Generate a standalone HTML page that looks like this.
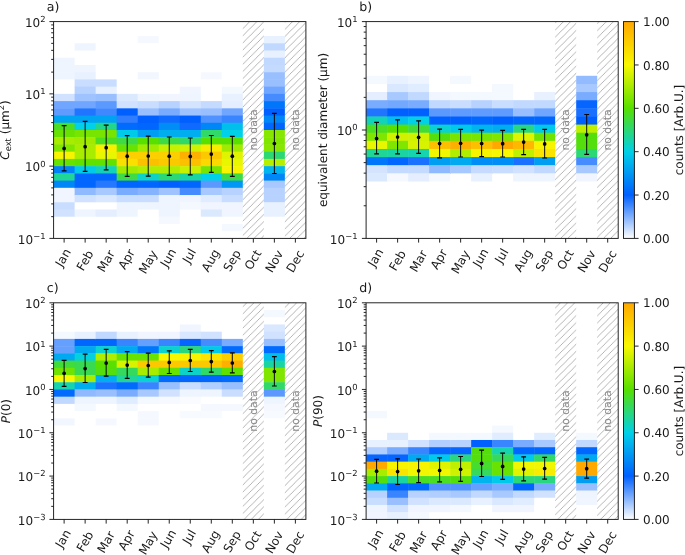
<!DOCTYPE html>
<html lang="en"><head><meta charset="utf-8"><title>Monthly distributions</title>
<style>html,body{margin:0;padding:0;background:#fff}body{width:685px;height:555px;overflow:hidden}svg{display:block;will-change:transform}text{font-family:'DejaVu Sans','Liberation Sans',sans-serif;text-rendering:geometricPrecision}</style>
</head><body>
<svg width="685" height="555" viewBox="0 0 685 555">
<defs>
<pattern id="hatch" width="7.13" height="7.13" patternUnits="userSpaceOnUse" x="0.5" y="0"><path d="M-2 2L2 -2M-1 8.129999999999999L8.129999999999999 -1M5.13 9.129999999999999L9.129999999999999 5.13" stroke="#a8a8a8" stroke-width="0.85" fill="none"/></pattern>
<linearGradient id="cb" x1="0" y1="1" x2="0" y2="0">
<stop offset="0" stop-color="#ffffff"/>
<stop offset="0.2" stop-color="#0060ff"/>
<stop offset="0.4" stop-color="#00d0e8"/>
<stop offset="0.6" stop-color="#58e000"/>
<stop offset="0.8" stop-color="#f8f800"/>
<stop offset="1" stop-color="#ffa800"/>
</linearGradient>
</defs>
<rect width="685" height="555" fill="#fff"/>
<g fill="#1a1a1a">
<g>
<g>
<rect x="53.6" y="57.73" width="21.03" height="7.68" fill="#eef5ff"/>
<rect x="53.6" y="64.96" width="21.48" height="7.68" fill="#eef5ff"/>
<rect x="53.6" y="72.19" width="21.48" height="7.23" fill="#eef5ff"/>
<rect x="53.6" y="93.87" width="21.48" height="7.68" fill="#d0e2ff"/>
<rect x="53.6" y="101.09" width="21.48" height="7.68" fill="#70a6ff"/>
<rect x="53.6" y="108.32" width="21.48" height="7.68" fill="#609cff"/>
<rect x="53.6" y="115.55" width="21.48" height="7.68" fill="#00a3f1"/>
<rect x="53.6" y="122.77" width="21.48" height="7.68" fill="#4bde23"/>
<rect x="53.6" y="130" width="21.48" height="7.68" fill="#68e200"/>
<rect x="53.6" y="137.23" width="21.48" height="7.68" fill="#a8ec00"/>
<rect x="53.6" y="144.45" width="21.48" height="7.68" fill="#80e600"/>
<rect x="53.6" y="151.68" width="21.48" height="7.68" fill="#f8f400"/>
<rect x="53.6" y="158.91" width="21.48" height="7.68" fill="#68e200"/>
<rect x="53.6" y="166.13" width="21.48" height="7.68" fill="#0082f8"/>
<rect x="53.6" y="173.36" width="21.48" height="7.68" fill="#1fd697"/>
<rect x="53.6" y="180.59" width="21.48" height="7.68" fill="#0087f7"/>
<rect x="53.6" y="187.81" width="21.48" height="7.68" fill="#f0f5ff"/>
<rect x="53.6" y="195.04" width="21.48" height="7.68" fill="#f0f5ff"/>
<rect x="53.6" y="202.27" width="21.03" height="7.68" fill="#c8ddff"/>
<rect x="53.6" y="209.49" width="21.48" height="7.23" fill="#d0e2ff"/>
<rect x="74.62" y="43.28" width="21.03" height="7.23" fill="#eef5ff"/>
<rect x="74.62" y="64.96" width="21.03" height="7.68" fill="#eef5ff"/>
<rect x="74.62" y="72.19" width="21.03" height="7.68" fill="#e8f1ff"/>
<rect x="74.62" y="79.41" width="21.48" height="7.68" fill="#c8ddff"/>
<rect x="74.62" y="86.64" width="21.48" height="7.68" fill="#b8d2ff"/>
<rect x="74.62" y="93.87" width="21.48" height="7.68" fill="#9fc3ff"/>
<rect x="74.62" y="101.09" width="21.48" height="7.68" fill="#70a6ff"/>
<rect x="74.62" y="108.32" width="21.48" height="7.68" fill="#2074ff"/>
<rect x="74.62" y="115.55" width="21.48" height="7.68" fill="#00a3f1"/>
<rect x="74.62" y="122.77" width="21.48" height="7.68" fill="#00d0e8"/>
<rect x="74.62" y="130" width="21.48" height="7.68" fill="#78e500"/>
<rect x="74.62" y="137.23" width="21.48" height="7.68" fill="#a0eb00"/>
<rect x="74.62" y="144.45" width="21.48" height="7.68" fill="#a8ec00"/>
<rect x="74.62" y="151.68" width="21.48" height="7.68" fill="#a8ec00"/>
<rect x="74.62" y="158.91" width="21.48" height="7.68" fill="#60e100"/>
<rect x="74.62" y="166.13" width="21.48" height="7.68" fill="#00cae9"/>
<rect x="74.62" y="173.36" width="21.48" height="7.68" fill="#0066fe"/>
<rect x="74.62" y="180.59" width="21.48" height="7.68" fill="#0066fe"/>
<rect x="74.62" y="187.81" width="21.48" height="7.68" fill="#90baff"/>
<rect x="74.62" y="195.04" width="21.48" height="7.23" fill="#d0e2ff"/>
<rect x="74.62" y="209.49" width="21.48" height="7.23" fill="#eef5ff"/>
<rect x="95.65" y="79.41" width="21.03" height="7.68" fill="#c8ddff"/>
<rect x="95.65" y="86.64" width="21.03" height="7.68" fill="#e8f1ff"/>
<rect x="95.65" y="93.87" width="21.48" height="7.68" fill="#99bfff"/>
<rect x="95.65" y="101.09" width="21.48" height="7.68" fill="#5c99ff"/>
<rect x="95.65" y="108.32" width="21.48" height="7.68" fill="#4088ff"/>
<rect x="95.65" y="115.55" width="21.48" height="7.68" fill="#00a3f1"/>
<rect x="95.65" y="122.77" width="21.48" height="7.68" fill="#23d68b"/>
<rect x="95.65" y="130" width="21.48" height="7.68" fill="#78e500"/>
<rect x="95.65" y="137.23" width="21.48" height="7.68" fill="#4bde23"/>
<rect x="95.65" y="144.45" width="21.48" height="7.68" fill="#f9f000"/>
<rect x="95.65" y="151.68" width="21.48" height="7.68" fill="#e8f600"/>
<rect x="95.65" y="158.91" width="21.48" height="7.68" fill="#60e100"/>
<rect x="95.65" y="166.13" width="21.48" height="7.68" fill="#12d3ba"/>
<rect x="95.65" y="173.36" width="21.48" height="7.68" fill="#0066fe"/>
<rect x="95.65" y="180.59" width="21.48" height="7.68" fill="#2678ff"/>
<rect x="95.65" y="187.81" width="21.48" height="7.68" fill="#a8c9ff"/>
<rect x="95.65" y="195.04" width="21.48" height="7.23" fill="#d9e7ff"/>
<rect x="95.65" y="209.49" width="21.48" height="7.23" fill="#e4eeff"/>
<rect x="116.68" y="93.87" width="21.48" height="7.68" fill="#dbe9ff"/>
<rect x="116.68" y="101.09" width="21.48" height="7.68" fill="#d0e2ff"/>
<rect x="116.68" y="108.32" width="21.48" height="7.68" fill="#0060ff"/>
<rect x="116.68" y="115.55" width="21.48" height="7.68" fill="#307eff"/>
<rect x="116.68" y="122.77" width="21.48" height="7.68" fill="#006bfd"/>
<rect x="116.68" y="130" width="21.48" height="7.68" fill="#00cae9"/>
<rect x="116.68" y="137.23" width="21.48" height="7.68" fill="#3edb46"/>
<rect x="116.68" y="144.45" width="21.48" height="7.68" fill="#68e200"/>
<rect x="116.68" y="151.68" width="21.48" height="7.68" fill="#fcd000"/>
<rect x="116.68" y="158.91" width="21.48" height="7.68" fill="#fae000"/>
<rect x="116.68" y="166.13" width="21.48" height="7.68" fill="#a0eb00"/>
<rect x="116.68" y="173.36" width="21.48" height="7.68" fill="#3edb46"/>
<rect x="116.68" y="180.59" width="21.48" height="7.68" fill="#0066fe"/>
<rect x="116.68" y="187.81" width="21.48" height="7.68" fill="#79acff"/>
<rect x="116.68" y="195.04" width="21.48" height="7.68" fill="#c8ddff"/>
<rect x="116.68" y="202.27" width="21.48" height="7.68" fill="#eef5ff"/>
<rect x="116.68" y="209.49" width="21.03" height="7.23" fill="#eef5ff"/>
<rect x="137.7" y="36.05" width="21.03" height="7.23" fill="#f5f9ff"/>
<rect x="137.7" y="72.19" width="21.03" height="7.23" fill="#f2f7ff"/>
<rect x="137.7" y="93.87" width="21.48" height="7.68" fill="#eef5ff"/>
<rect x="137.7" y="101.09" width="21.48" height="7.68" fill="#c8ddff"/>
<rect x="137.7" y="108.32" width="21.48" height="7.68" fill="#99bfff"/>
<rect x="137.7" y="115.55" width="21.48" height="7.68" fill="#0060ff"/>
<rect x="137.7" y="122.77" width="21.48" height="7.68" fill="#0066fe"/>
<rect x="137.7" y="130" width="21.48" height="7.68" fill="#009ef2"/>
<rect x="137.7" y="137.23" width="21.48" height="7.68" fill="#58e000"/>
<rect x="137.7" y="144.45" width="21.48" height="7.68" fill="#a0eb00"/>
<rect x="137.7" y="151.68" width="21.48" height="7.68" fill="#fcd000"/>
<rect x="137.7" y="158.91" width="21.48" height="7.68" fill="#fdc000"/>
<rect x="137.7" y="166.13" width="21.48" height="7.68" fill="#b0ed00"/>
<rect x="137.7" y="173.36" width="21.48" height="7.68" fill="#0dd2c5"/>
<rect x="137.7" y="180.59" width="21.48" height="7.68" fill="#0066fe"/>
<rect x="137.7" y="187.81" width="21.48" height="7.68" fill="#86b3ff"/>
<rect x="137.7" y="195.04" width="21.48" height="7.68" fill="#c8ddff"/>
<rect x="137.7" y="202.27" width="21.48" height="7.23" fill="#eef5ff"/>
<rect x="158.73" y="93.87" width="21.48" height="7.68" fill="#f0f5ff"/>
<rect x="158.73" y="101.09" width="21.48" height="7.68" fill="#b8d2ff"/>
<rect x="158.73" y="108.32" width="21.48" height="7.68" fill="#79acff"/>
<rect x="158.73" y="115.55" width="21.48" height="7.68" fill="#116aff"/>
<rect x="158.73" y="122.77" width="21.48" height="7.68" fill="#008df6"/>
<rect x="158.73" y="130" width="21.48" height="7.68" fill="#00aeef"/>
<rect x="158.73" y="137.23" width="21.48" height="7.68" fill="#3edb46"/>
<rect x="158.73" y="144.45" width="21.48" height="7.68" fill="#c8f100"/>
<rect x="158.73" y="151.68" width="21.48" height="7.68" fill="#fcd000"/>
<rect x="158.73" y="158.91" width="21.48" height="7.68" fill="#fcc800"/>
<rect x="158.73" y="166.13" width="21.48" height="7.68" fill="#b0ed00"/>
<rect x="158.73" y="173.36" width="21.48" height="7.68" fill="#2cd874"/>
<rect x="158.73" y="180.59" width="21.48" height="7.68" fill="#0060ff"/>
<rect x="158.73" y="187.81" width="21.48" height="7.68" fill="#9fc3ff"/>
<rect x="158.73" y="195.04" width="21.48" height="7.68" fill="#eef5ff"/>
<rect x="158.73" y="202.27" width="21.48" height="7.68" fill="#eef5ff"/>
<rect x="158.73" y="209.49" width="21.03" height="7.68" fill="#eef5ff"/>
<rect x="158.73" y="216.72" width="21.03" height="7.23" fill="#f5f9ff"/>
<rect x="179.75" y="86.64" width="21.03" height="7.68" fill="#f0f5ff"/>
<rect x="179.75" y="93.87" width="21.03" height="7.68" fill="#eef5ff"/>
<rect x="179.75" y="101.09" width="21.48" height="7.68" fill="#d4e4ff"/>
<rect x="179.75" y="108.32" width="21.48" height="7.68" fill="#9fc3ff"/>
<rect x="179.75" y="115.55" width="21.48" height="7.68" fill="#0060ff"/>
<rect x="179.75" y="122.77" width="21.48" height="7.68" fill="#116aff"/>
<rect x="179.75" y="130" width="21.48" height="7.68" fill="#00aeef"/>
<rect x="179.75" y="137.23" width="21.48" height="7.68" fill="#30d968"/>
<rect x="179.75" y="144.45" width="21.48" height="7.68" fill="#d0f200"/>
<rect x="179.75" y="151.68" width="21.48" height="7.68" fill="#feb000"/>
<rect x="179.75" y="158.91" width="21.48" height="7.68" fill="#fdc000"/>
<rect x="179.75" y="166.13" width="21.48" height="7.68" fill="#c8f100"/>
<rect x="179.75" y="173.36" width="21.48" height="7.68" fill="#1ad5a2"/>
<rect x="179.75" y="180.59" width="21.48" height="7.68" fill="#0066fe"/>
<rect x="179.75" y="187.81" width="21.48" height="7.68" fill="#468cff"/>
<rect x="179.75" y="195.04" width="21.48" height="7.68" fill="#f0f5ff"/>
<rect x="179.75" y="202.27" width="21.48" height="7.23" fill="#f4f8ff"/>
<rect x="200.78" y="72.19" width="21.03" height="7.23" fill="#f5f9ff"/>
<rect x="200.78" y="101.09" width="21.48" height="7.68" fill="#c4daff"/>
<rect x="200.78" y="108.32" width="21.48" height="7.68" fill="#99bfff"/>
<rect x="200.78" y="115.55" width="21.48" height="7.68" fill="#5092ff"/>
<rect x="200.78" y="122.77" width="21.48" height="7.68" fill="#0087f7"/>
<rect x="200.78" y="130" width="21.48" height="7.68" fill="#30d968"/>
<rect x="200.78" y="137.23" width="21.48" height="7.68" fill="#58e000"/>
<rect x="200.78" y="144.45" width="21.48" height="7.68" fill="#f9ec00"/>
<rect x="200.78" y="151.68" width="21.48" height="7.68" fill="#fcc800"/>
<rect x="200.78" y="158.91" width="21.48" height="7.68" fill="#fbd800"/>
<rect x="200.78" y="166.13" width="21.48" height="7.68" fill="#78e500"/>
<rect x="200.78" y="173.36" width="21.48" height="7.68" fill="#00d0e8"/>
<rect x="200.78" y="180.59" width="21.48" height="7.68" fill="#5c99ff"/>
<rect x="200.78" y="187.81" width="21.48" height="7.68" fill="#a8c9ff"/>
<rect x="200.78" y="195.04" width="21.48" height="7.68" fill="#e0ecff"/>
<rect x="200.78" y="202.27" width="21.48" height="7.68" fill="#f0f5ff"/>
<rect x="200.78" y="209.49" width="21.48" height="7.23" fill="#dbe9ff"/>
<rect x="221.8" y="86.64" width="21.03" height="7.68" fill="#f4f8ff"/>
<rect x="221.8" y="93.87" width="21.03" height="7.68" fill="#e8f1ff"/>
<rect x="221.8" y="101.09" width="21.03" height="7.68" fill="#e4eeff"/>
<rect x="221.8" y="108.32" width="21.03" height="7.68" fill="#70a6ff"/>
<rect x="221.8" y="115.55" width="21.03" height="7.68" fill="#3984ff"/>
<rect x="221.8" y="122.77" width="21.03" height="7.68" fill="#00bfeb"/>
<rect x="221.8" y="130" width="21.03" height="7.68" fill="#00d0e8"/>
<rect x="221.8" y="137.23" width="21.03" height="7.68" fill="#58e000"/>
<rect x="221.8" y="144.45" width="21.03" height="7.68" fill="#a0eb00"/>
<rect x="221.8" y="151.68" width="21.03" height="7.68" fill="#e0f400"/>
<rect x="221.8" y="158.91" width="21.03" height="7.68" fill="#e8f600"/>
<rect x="221.8" y="166.13" width="21.03" height="7.68" fill="#f8f400"/>
<rect x="221.8" y="173.36" width="21.03" height="7.68" fill="#3edb46"/>
<rect x="221.8" y="180.59" width="21.03" height="7.68" fill="#0098f4"/>
<rect x="221.8" y="187.81" width="21.03" height="7.68" fill="#b8d2ff"/>
<rect x="221.8" y="195.04" width="21.03" height="7.68" fill="#c8ddff"/>
<rect x="221.8" y="202.27" width="21.03" height="7.68" fill="#f0f5ff"/>
<rect x="221.8" y="209.49" width="21.03" height="7.23" fill="#f0f5ff"/>
<rect x="221.8" y="223.95" width="21.03" height="7.23" fill="#f4f8ff"/>
<rect x="263.85" y="36.05" width="21.03" height="7.68" fill="#e8f1ff"/>
<rect x="263.85" y="43.28" width="21.03" height="7.68" fill="#c1d8ff"/>
<rect x="263.85" y="50.51" width="21.03" height="7.68" fill="#e8f1ff"/>
<rect x="263.85" y="57.73" width="21.03" height="7.68" fill="#c1d8ff"/>
<rect x="263.85" y="64.96" width="21.03" height="7.68" fill="#c4daff"/>
<rect x="263.85" y="72.19" width="21.03" height="7.68" fill="#99bfff"/>
<rect x="263.85" y="79.41" width="21.03" height="7.68" fill="#99bfff"/>
<rect x="263.85" y="86.64" width="21.03" height="7.68" fill="#70a6ff"/>
<rect x="263.85" y="93.87" width="21.03" height="7.68" fill="#468cff"/>
<rect x="263.85" y="101.09" width="21.03" height="7.68" fill="#0076fa"/>
<rect x="263.85" y="108.32" width="21.03" height="7.68" fill="#0060ff"/>
<rect x="263.85" y="115.55" width="21.03" height="7.68" fill="#0087f7"/>
<rect x="263.85" y="122.77" width="21.03" height="7.68" fill="#0066fe"/>
<rect x="263.85" y="130" width="21.03" height="7.68" fill="#88e700"/>
<rect x="263.85" y="137.23" width="21.03" height="7.68" fill="#80e600"/>
<rect x="263.85" y="144.45" width="21.03" height="7.68" fill="#88e700"/>
<rect x="263.85" y="151.68" width="21.03" height="7.68" fill="#2cd874"/>
<rect x="263.85" y="158.91" width="21.03" height="7.68" fill="#b8ee00"/>
<rect x="263.85" y="166.13" width="21.03" height="7.68" fill="#00b4ee"/>
<rect x="263.85" y="173.36" width="21.03" height="7.68" fill="#0087f7"/>
<rect x="263.85" y="180.59" width="21.03" height="7.68" fill="#a8c9ff"/>
<rect x="263.85" y="187.81" width="21.03" height="7.68" fill="#b8d2ff"/>
<rect x="263.85" y="195.04" width="21.03" height="7.68" fill="#b8d2ff"/>
<rect x="263.85" y="202.27" width="21.03" height="7.68" fill="#e8f1ff"/>
<rect x="263.85" y="209.49" width="21.03" height="7.23" fill="#e8f1ff"/>
</g>
<rect x="242.83" y="21.6" width="21.03" height="216.8" fill="url(#hatch)"/>
<text transform="translate(257.04 130) rotate(-90)" text-anchor="middle" font-size="10.8" fill="#8a8a8a">no data</text>
<rect x="284.88" y="21.6" width="21.03" height="216.8" fill="url(#hatch)"/>
<text transform="translate(299.09 130) rotate(-90)" text-anchor="middle" font-size="10.8" fill="#8a8a8a">no data</text>
<path d="M64.11 125.6V170.9" stroke="#000" stroke-width="0.95" fill="none"/>
<path d="M61.71 125.6h4.8M61.71 170.9h4.8" stroke="#000" stroke-width="1.2" fill="none"/>
<circle cx="64.11" cy="148.4" r="1.85" fill="#000"/>
<path d="M85.14 121.4V171.3" stroke="#000" stroke-width="0.95" fill="none"/>
<path d="M82.74 121.4h4.8M82.74 171.3h4.8" stroke="#000" stroke-width="1.2" fill="none"/>
<circle cx="85.14" cy="146.7" r="1.85" fill="#000"/>
<path d="M106.16 125.2V169.9" stroke="#000" stroke-width="0.95" fill="none"/>
<path d="M103.76 125.2h4.8M103.76 169.9h4.8" stroke="#000" stroke-width="1.2" fill="none"/>
<circle cx="106.16" cy="147.7" r="1.85" fill="#000"/>
<path d="M127.19 135.7V176.4" stroke="#000" stroke-width="0.95" fill="none"/>
<path d="M124.79 135.7h4.8M124.79 176.4h4.8" stroke="#000" stroke-width="1.2" fill="none"/>
<circle cx="127.19" cy="156.2" r="1.85" fill="#000"/>
<path d="M148.21 136.1V176.2" stroke="#000" stroke-width="0.95" fill="none"/>
<path d="M145.81 136.1h4.8M145.81 176.2h4.8" stroke="#000" stroke-width="1.2" fill="none"/>
<circle cx="148.21" cy="156" r="1.85" fill="#000"/>
<path d="M169.24 137V175.4" stroke="#000" stroke-width="0.95" fill="none"/>
<path d="M166.84 137h4.8M166.84 175.4h4.8" stroke="#000" stroke-width="1.2" fill="none"/>
<circle cx="169.24" cy="156.2" r="1.85" fill="#000"/>
<path d="M190.26 138V174.9" stroke="#000" stroke-width="0.95" fill="none"/>
<path d="M187.86 138h4.8M187.86 174.9h4.8" stroke="#000" stroke-width="1.2" fill="none"/>
<circle cx="190.26" cy="156.4" r="1.85" fill="#000"/>
<path d="M211.29 135.5V172.4" stroke="#000" stroke-width="0.95" fill="none"/>
<path d="M208.89 135.5h4.8M208.89 172.4h4.8" stroke="#000" stroke-width="1.2" fill="none"/>
<circle cx="211.29" cy="154.1" r="1.85" fill="#000"/>
<path d="M232.31 136.3V176.4" stroke="#000" stroke-width="0.95" fill="none"/>
<path d="M229.91 136.3h4.8M229.91 176.4h4.8" stroke="#000" stroke-width="1.2" fill="none"/>
<circle cx="232.31" cy="156.2" r="1.85" fill="#000"/>
<path d="M274.36 113.4V173.5" stroke="#000" stroke-width="0.95" fill="none"/>
<path d="M271.96 113.4h4.8M271.96 173.5h4.8" stroke="#000" stroke-width="1.2" fill="none"/>
<circle cx="274.36" cy="143.5" r="1.85" fill="#000"/>
<rect x="53.6" y="21.6" width="252.3" height="216.8" fill="none" stroke="#1a1a1a" stroke-width="0.95"/>
<path d="M53.6 238.4h-4.2M53.6 216.65h-2.4M53.6 203.92h-2.4M53.6 194.89h-2.4M53.6 187.89h-2.4M53.6 182.17h-2.4M53.6 177.33h-2.4M53.6 173.14h-2.4M53.6 169.44h-2.4M53.6 166.13h-4.2M53.6 144.38h-2.4M53.6 131.65h-2.4M53.6 122.62h-2.4M53.6 115.62h-2.4M53.6 109.9h-2.4M53.6 105.06h-2.4M53.6 100.87h-2.4M53.6 97.17h-2.4M53.6 93.87h-4.2M53.6 72.11h-2.4M53.6 59.39h-2.4M53.6 50.36h-2.4M53.6 43.35h-2.4M53.6 37.63h-2.4M53.6 32.79h-2.4M53.6 28.6h-2.4M53.6 24.91h-2.4M53.6 21.6h-4.2M64.11 238.4v4.2M85.14 238.4v4.2M106.16 238.4v4.2M127.19 238.4v4.2M148.21 238.4v4.2M169.24 238.4v4.2M190.26 238.4v4.2M211.29 238.4v4.2M232.31 238.4v4.2M253.34 238.4v4.2M274.36 238.4v4.2M295.39 238.4v4.2" stroke="#1a1a1a" stroke-width="0.95" fill="none"/>
<text x="45.7" y="243.6" text-anchor="end" font-size="12.0">10<tspan font-size="8.4" dy="-4.8" dx="0.2">−1</tspan></text>
<text x="45.7" y="171.33" text-anchor="end" font-size="12.0">10<tspan font-size="8.4" dy="-4.8" dx="0.2">0</tspan></text>
<text x="45.7" y="99.07" text-anchor="end" font-size="12.0">10<tspan font-size="8.4" dy="-4.8" dx="0.2">1</tspan></text>
<text x="45.7" y="26.8" text-anchor="end" font-size="12.0">10<tspan font-size="8.4" dy="-4.8" dx="0.2">2</tspan></text>
<text transform="translate(62.05 267.74) rotate(-60)" font-size="12.0">Jan</text>
<text transform="translate(83.28 271.68) rotate(-60)" font-size="12.0">Feb</text>
<text transform="translate(103.96 272.89) rotate(-60)" font-size="12.0">Mar</text>
<text transform="translate(124.91 270.32) rotate(-60)" font-size="12.0">Apr</text>
<text transform="translate(145.47 274.76) rotate(-60)" font-size="12.0">May</text>
<text transform="translate(167.11 267.96) rotate(-60)" font-size="12.0">Jun</text>
<text transform="translate(189.2 264.26) rotate(-60)" font-size="12.0">Jul</text>
<text transform="translate(208.34 272.63) rotate(-60)" font-size="12.0">Aug</text>
<text transform="translate(229.92 272.53) rotate(-60)" font-size="12.0">Sep</text>
<text transform="translate(251.36 270.81) rotate(-60)" font-size="12.0">Oct</text>
<text transform="translate(271.96 273.56) rotate(-60)" font-size="12.0">Nov</text>
<text transform="translate(293.04 273.39) rotate(-60)" font-size="12.0">Dec</text>
<text x="46.8" y="10.6" font-size="12.6">a)</text>
<text transform="translate(9.3 130) rotate(-90)" text-anchor="middle" font-size="12.0"><tspan font-style="italic">C</tspan><tspan font-size="8.4" dy="1.8">ext</tspan><tspan dy="-1.8"> (µm</tspan><tspan font-size="8.4" dy="-4.9">2</tspan><tspan dy="4.9">)</tspan></text>
</g>
<g>
<g>
<rect x="366.1" y="75.8" width="21.46" height="8.13" fill="#f4f8ff"/>
<rect x="366.1" y="92.06" width="21.46" height="8.58" fill="#e4eeff"/>
<rect x="366.1" y="100.19" width="21.46" height="8.58" fill="#79acff"/>
<rect x="366.1" y="108.32" width="21.46" height="8.58" fill="#2074ff"/>
<rect x="366.1" y="116.45" width="21.46" height="8.58" fill="#12d3ba"/>
<rect x="366.1" y="124.58" width="21.46" height="8.58" fill="#4bde23"/>
<rect x="366.1" y="132.71" width="21.46" height="8.58" fill="#80e600"/>
<rect x="366.1" y="140.84" width="21.46" height="8.58" fill="#e8f600"/>
<rect x="366.1" y="148.97" width="21.46" height="8.58" fill="#1fd697"/>
<rect x="366.1" y="157.1" width="21.46" height="8.58" fill="#0076fa"/>
<rect x="366.1" y="165.23" width="21.46" height="8.58" fill="#d4e4ff"/>
<rect x="366.1" y="173.36" width="21.46" height="8.13" fill="#dbe9ff"/>
<rect x="387.11" y="75.8" width="21.46" height="8.58" fill="#e8f1ff"/>
<rect x="387.11" y="83.93" width="21.46" height="8.58" fill="#d9e7ff"/>
<rect x="387.11" y="92.06" width="21.46" height="8.58" fill="#a8c9ff"/>
<rect x="387.11" y="100.19" width="21.46" height="8.58" fill="#73a8ff"/>
<rect x="387.11" y="108.32" width="21.46" height="8.58" fill="#0060ff"/>
<rect x="387.11" y="116.45" width="21.46" height="8.58" fill="#00bfeb"/>
<rect x="387.11" y="124.58" width="21.46" height="8.58" fill="#58e000"/>
<rect x="387.11" y="132.71" width="21.46" height="8.58" fill="#d0f200"/>
<rect x="387.11" y="140.84" width="21.46" height="8.58" fill="#80e600"/>
<rect x="387.11" y="148.97" width="21.46" height="8.58" fill="#1ad5a2"/>
<rect x="387.11" y="157.1" width="21.46" height="8.58" fill="#0066fe"/>
<rect x="387.11" y="165.23" width="21.46" height="8.58" fill="#c4daff"/>
<rect x="387.11" y="173.36" width="21.46" height="8.13" fill="#f5f9ff"/>
<rect x="408.12" y="75.8" width="21.01" height="8.58" fill="#eef5ff"/>
<rect x="408.12" y="83.93" width="21.01" height="8.58" fill="#e0ecff"/>
<rect x="408.12" y="92.06" width="21.46" height="8.58" fill="#c1d8ff"/>
<rect x="408.12" y="100.19" width="21.46" height="8.58" fill="#79acff"/>
<rect x="408.12" y="108.32" width="21.46" height="8.58" fill="#0060ff"/>
<rect x="408.12" y="116.45" width="21.46" height="8.58" fill="#00d0e8"/>
<rect x="408.12" y="124.58" width="21.46" height="8.58" fill="#42dc3a"/>
<rect x="408.12" y="132.71" width="21.46" height="8.58" fill="#d0f200"/>
<rect x="408.12" y="140.84" width="21.46" height="8.58" fill="#d8f300"/>
<rect x="408.12" y="148.97" width="21.46" height="8.58" fill="#16d4ae"/>
<rect x="408.12" y="157.1" width="21.46" height="8.58" fill="#1a70ff"/>
<rect x="408.12" y="165.23" width="21.46" height="8.58" fill="#c4daff"/>
<rect x="408.12" y="173.36" width="21.46" height="8.13" fill="#e4eeff"/>
<rect x="429.12" y="92.06" width="21.46" height="8.58" fill="#f0f5ff"/>
<rect x="429.12" y="100.19" width="21.46" height="8.58" fill="#c1d8ff"/>
<rect x="429.12" y="108.32" width="21.46" height="8.58" fill="#5c99ff"/>
<rect x="429.12" y="116.45" width="21.46" height="8.58" fill="#0060ff"/>
<rect x="429.12" y="124.58" width="21.46" height="8.58" fill="#09d2d1"/>
<rect x="429.12" y="132.71" width="21.46" height="8.58" fill="#54df0c"/>
<rect x="429.12" y="140.84" width="21.46" height="8.58" fill="#fdc000"/>
<rect x="429.12" y="148.97" width="21.46" height="8.58" fill="#f0f700"/>
<rect x="429.12" y="157.1" width="21.46" height="8.58" fill="#009ef2"/>
<rect x="429.12" y="165.23" width="21.46" height="8.58" fill="#90baff"/>
<rect x="429.12" y="173.36" width="21.01" height="8.13" fill="#f4f8ff"/>
<rect x="450.13" y="75.8" width="21.01" height="8.13" fill="#f4f8ff"/>
<rect x="450.13" y="92.06" width="21.46" height="8.58" fill="#f4f8ff"/>
<rect x="450.13" y="100.19" width="21.46" height="8.58" fill="#c8ddff"/>
<rect x="450.13" y="108.32" width="21.46" height="8.58" fill="#609cff"/>
<rect x="450.13" y="116.45" width="21.46" height="8.58" fill="#0060ff"/>
<rect x="450.13" y="124.58" width="21.46" height="8.58" fill="#00cae9"/>
<rect x="450.13" y="132.71" width="21.46" height="8.58" fill="#78e500"/>
<rect x="450.13" y="140.84" width="21.46" height="8.58" fill="#feb000"/>
<rect x="450.13" y="148.97" width="21.46" height="8.58" fill="#b0ed00"/>
<rect x="450.13" y="157.1" width="21.46" height="8.58" fill="#00a9f0"/>
<rect x="450.13" y="165.23" width="21.46" height="8.13" fill="#a8c9ff"/>
<rect x="471.14" y="92.06" width="21.46" height="8.58" fill="#f4f8ff"/>
<rect x="471.14" y="100.19" width="21.46" height="8.58" fill="#b8d2ff"/>
<rect x="471.14" y="108.32" width="21.46" height="8.58" fill="#609cff"/>
<rect x="471.14" y="116.45" width="21.46" height="8.58" fill="#0066fe"/>
<rect x="471.14" y="124.58" width="21.46" height="8.58" fill="#00b4ee"/>
<rect x="471.14" y="132.71" width="21.46" height="8.58" fill="#78e500"/>
<rect x="471.14" y="140.84" width="21.46" height="8.58" fill="#fdc000"/>
<rect x="471.14" y="148.97" width="21.46" height="8.58" fill="#f8f400"/>
<rect x="471.14" y="157.1" width="21.46" height="8.58" fill="#008df6"/>
<rect x="471.14" y="165.23" width="21.46" height="8.58" fill="#c6dbff"/>
<rect x="471.14" y="173.36" width="21.01" height="8.13" fill="#e8f1ff"/>
<rect x="492.15" y="83.93" width="21.01" height="8.58" fill="#f4f8ff"/>
<rect x="492.15" y="92.06" width="21.01" height="8.58" fill="#f4f8ff"/>
<rect x="492.15" y="100.19" width="21.46" height="8.58" fill="#c8ddff"/>
<rect x="492.15" y="108.32" width="21.46" height="8.58" fill="#609cff"/>
<rect x="492.15" y="116.45" width="21.46" height="8.58" fill="#0060ff"/>
<rect x="492.15" y="124.58" width="21.46" height="8.58" fill="#00aeef"/>
<rect x="492.15" y="132.71" width="21.46" height="8.58" fill="#80e600"/>
<rect x="492.15" y="140.84" width="21.46" height="8.58" fill="#ffa800"/>
<rect x="492.15" y="148.97" width="21.46" height="8.58" fill="#f8f800"/>
<rect x="492.15" y="157.1" width="21.46" height="8.58" fill="#008df6"/>
<rect x="492.15" y="165.23" width="21.46" height="8.13" fill="#c8ddff"/>
<rect x="513.16" y="100.19" width="21.46" height="8.58" fill="#c1d8ff"/>
<rect x="513.16" y="108.32" width="21.46" height="8.58" fill="#99bfff"/>
<rect x="513.16" y="116.45" width="21.46" height="8.58" fill="#0066fe"/>
<rect x="513.16" y="124.58" width="21.46" height="8.58" fill="#28d780"/>
<rect x="513.16" y="132.71" width="21.46" height="8.58" fill="#e0f400"/>
<rect x="513.16" y="140.84" width="21.46" height="8.58" fill="#feb800"/>
<rect x="513.16" y="148.97" width="21.46" height="8.58" fill="#c0f000"/>
<rect x="513.16" y="157.1" width="21.46" height="8.58" fill="#1a70ff"/>
<rect x="513.16" y="165.23" width="21.46" height="8.58" fill="#d0e2ff"/>
<rect x="513.16" y="173.36" width="21.46" height="8.13" fill="#eef5ff"/>
<rect x="534.17" y="92.06" width="21.01" height="8.58" fill="#e8f1ff"/>
<rect x="534.17" y="100.19" width="21.01" height="8.58" fill="#c1d8ff"/>
<rect x="534.17" y="108.32" width="21.01" height="8.58" fill="#70a6ff"/>
<rect x="534.17" y="116.45" width="21.01" height="8.58" fill="#0066fe"/>
<rect x="534.17" y="124.58" width="21.01" height="8.58" fill="#00cae9"/>
<rect x="534.17" y="132.71" width="21.01" height="8.58" fill="#70e400"/>
<rect x="534.17" y="140.84" width="21.01" height="8.58" fill="#f8f400"/>
<rect x="534.17" y="148.97" width="21.01" height="8.58" fill="#fae400"/>
<rect x="534.17" y="157.1" width="21.01" height="8.58" fill="#009ef2"/>
<rect x="534.17" y="165.23" width="21.01" height="8.58" fill="#c1d8ff"/>
<rect x="534.17" y="173.36" width="21.01" height="8.13" fill="#eef5ff"/>
<rect x="576.18" y="75.8" width="21.01" height="8.58" fill="#93bbff"/>
<rect x="576.18" y="83.93" width="21.01" height="8.58" fill="#a8c9ff"/>
<rect x="576.18" y="92.06" width="21.01" height="8.58" fill="#79acff"/>
<rect x="576.18" y="100.19" width="21.01" height="8.58" fill="#0664ff"/>
<rect x="576.18" y="108.32" width="21.01" height="8.58" fill="#1a70ff"/>
<rect x="576.18" y="116.45" width="21.01" height="8.58" fill="#0060ff"/>
<rect x="576.18" y="124.58" width="21.01" height="8.58" fill="#c0f000"/>
<rect x="576.18" y="132.71" width="21.01" height="8.58" fill="#54df0c"/>
<rect x="576.18" y="140.84" width="21.01" height="8.58" fill="#54df0c"/>
<rect x="576.18" y="148.97" width="21.01" height="8.58" fill="#2cd874"/>
<rect x="576.18" y="157.1" width="21.01" height="8.58" fill="#468cff"/>
<rect x="576.18" y="165.23" width="21.01" height="8.58" fill="#a8c9ff"/>
<rect x="576.18" y="173.36" width="21.01" height="8.13" fill="#f0f5ff"/>
</g>
<rect x="555.17" y="21.6" width="21.01" height="216.8" fill="url(#hatch)"/>
<text transform="translate(569.38 130) rotate(-90)" text-anchor="middle" font-size="10.8" fill="#8a8a8a">no data</text>
<rect x="597.19" y="21.6" width="21.01" height="216.8" fill="url(#hatch)"/>
<text transform="translate(611.4 130) rotate(-90)" text-anchor="middle" font-size="10.8" fill="#8a8a8a">no data</text>
<path d="M376.6 122.3V153.8" stroke="#000" stroke-width="0.95" fill="none"/>
<path d="M374.2 122.3h4.8M374.2 153.8h4.8" stroke="#000" stroke-width="1.2" fill="none"/>
<circle cx="376.6" cy="138.5" r="1.85" fill="#000"/>
<path d="M397.61 119.9V153.8" stroke="#000" stroke-width="0.95" fill="none"/>
<path d="M395.21 119.9h4.8M395.21 153.8h4.8" stroke="#000" stroke-width="1.2" fill="none"/>
<circle cx="397.61" cy="137" r="1.85" fill="#000"/>
<path d="M418.62 120.9V153.3" stroke="#000" stroke-width="0.95" fill="none"/>
<path d="M416.22 120.9h4.8M416.22 153.3h4.8" stroke="#000" stroke-width="1.2" fill="none"/>
<circle cx="418.62" cy="137.3" r="1.85" fill="#000"/>
<path d="M439.63 129.1V157.9" stroke="#000" stroke-width="0.95" fill="none"/>
<path d="M437.23 129.1h4.8M437.23 157.9h4.8" stroke="#000" stroke-width="1.2" fill="none"/>
<circle cx="439.63" cy="143.6" r="1.85" fill="#000"/>
<path d="M460.64 129.4V157" stroke="#000" stroke-width="0.95" fill="none"/>
<path d="M458.24 129.4h4.8M458.24 157h4.8" stroke="#000" stroke-width="1.2" fill="none"/>
<circle cx="460.64" cy="143.3" r="1.85" fill="#000"/>
<path d="M481.65 130.1V156.6" stroke="#000" stroke-width="0.95" fill="none"/>
<path d="M479.25 130.1h4.8M479.25 156.6h4.8" stroke="#000" stroke-width="1.2" fill="none"/>
<circle cx="481.65" cy="143.5" r="1.85" fill="#000"/>
<path d="M502.65 130.3V157" stroke="#000" stroke-width="0.95" fill="none"/>
<path d="M500.25 130.3h4.8M500.25 157h4.8" stroke="#000" stroke-width="1.2" fill="none"/>
<circle cx="502.65" cy="143.7" r="1.85" fill="#000"/>
<path d="M523.66 129.4V154.7" stroke="#000" stroke-width="0.95" fill="none"/>
<path d="M521.26 129.4h4.8M521.26 154.7h4.8" stroke="#000" stroke-width="1.2" fill="none"/>
<circle cx="523.66" cy="142.1" r="1.85" fill="#000"/>
<path d="M544.67 129.4V158" stroke="#000" stroke-width="0.95" fill="none"/>
<path d="M542.27 129.4h4.8M542.27 158h4.8" stroke="#000" stroke-width="1.2" fill="none"/>
<circle cx="544.67" cy="143.9" r="1.85" fill="#000"/>
<path d="M586.69 114.5V154.3" stroke="#000" stroke-width="0.95" fill="none"/>
<path d="M584.29 114.5h4.8M584.29 154.3h4.8" stroke="#000" stroke-width="1.2" fill="none"/>
<circle cx="586.69" cy="134.8" r="1.85" fill="#000"/>
<rect x="366.1" y="21.6" width="252.1" height="216.8" fill="none" stroke="#1a1a1a" stroke-width="0.95"/>
<path d="M366.1 238.4h-4.2M366.1 205.77h-2.4M366.1 186.68h-2.4M366.1 173.14h-2.4M366.1 162.63h-2.4M366.1 154.05h-2.4M366.1 146.79h-2.4M366.1 140.51h-2.4M366.1 134.96h-2.4M366.1 130h-4.2M366.1 97.37h-2.4M366.1 78.28h-2.4M366.1 64.74h-2.4M366.1 54.23h-2.4M366.1 45.65h-2.4M366.1 38.39h-2.4M366.1 32.11h-2.4M366.1 26.56h-2.4M366.1 21.6h-4.2M376.6 238.4v4.2M397.61 238.4v4.2M418.62 238.4v4.2M439.63 238.4v4.2M460.64 238.4v4.2M481.65 238.4v4.2M502.65 238.4v4.2M523.66 238.4v4.2M544.67 238.4v4.2M565.68 238.4v4.2M586.69 238.4v4.2M607.7 238.4v4.2" stroke="#1a1a1a" stroke-width="0.95" fill="none"/>
<text x="357.7" y="243.6" text-anchor="end" font-size="12.0">10<tspan font-size="8.4" dy="-4.8" dx="0.2">−1</tspan></text>
<text x="357.7" y="135.2" text-anchor="end" font-size="12.0">10<tspan font-size="8.4" dy="-4.8" dx="0.2">0</tspan></text>
<text x="357.7" y="26.8" text-anchor="end" font-size="12.0">10<tspan font-size="8.4" dy="-4.8" dx="0.2">1</tspan></text>
<text transform="translate(374.54 267.74) rotate(-60)" font-size="12.0">Jan</text>
<text transform="translate(395.76 271.68) rotate(-60)" font-size="12.0">Feb</text>
<text transform="translate(416.42 272.89) rotate(-60)" font-size="12.0">Mar</text>
<text transform="translate(437.35 270.32) rotate(-60)" font-size="12.0">Apr</text>
<text transform="translate(457.89 274.76) rotate(-60)" font-size="12.0">May</text>
<text transform="translate(479.52 267.96) rotate(-60)" font-size="12.0">Jun</text>
<text transform="translate(501.59 264.26) rotate(-60)" font-size="12.0">Jul</text>
<text transform="translate(520.72 272.63) rotate(-60)" font-size="12.0">Aug</text>
<text transform="translate(542.28 272.53) rotate(-60)" font-size="12.0">Sep</text>
<text transform="translate(563.7 270.81) rotate(-60)" font-size="12.0">Oct</text>
<text transform="translate(584.29 273.56) rotate(-60)" font-size="12.0">Nov</text>
<text transform="translate(605.35 273.39) rotate(-60)" font-size="12.0">Dec</text>
<text x="359.3" y="10.6" font-size="12.6">b)</text>
<text transform="translate(327 130) rotate(-90)" text-anchor="middle" font-size="12.0">equivalent diameter (µm)</text>
</g>
<g>
<g>
<rect x="53.6" y="331.68" width="21.48" height="7.67" fill="#f4f8ff"/>
<rect x="53.6" y="338.9" width="21.48" height="7.67" fill="#66a0ff"/>
<rect x="53.6" y="346.12" width="21.48" height="7.67" fill="#66a0ff"/>
<rect x="53.6" y="353.34" width="21.48" height="7.67" fill="#00a9f0"/>
<rect x="53.6" y="360.56" width="21.48" height="7.67" fill="#42dc3a"/>
<rect x="53.6" y="367.78" width="21.48" height="7.67" fill="#70e400"/>
<rect x="53.6" y="375" width="21.48" height="7.67" fill="#f8f800"/>
<rect x="53.6" y="382.22" width="21.48" height="7.67" fill="#16d4ae"/>
<rect x="53.6" y="389.44" width="21.48" height="7.67" fill="#006bfd"/>
<rect x="53.6" y="396.66" width="21.48" height="7.22" fill="#c1d8ff"/>
<rect x="53.6" y="418.32" width="21.03" height="7.22" fill="#f2f7ff"/>
<rect x="74.62" y="331.68" width="21.48" height="7.67" fill="#e8f1ff"/>
<rect x="74.62" y="338.9" width="21.48" height="7.67" fill="#0066fe"/>
<rect x="74.62" y="346.12" width="21.48" height="7.67" fill="#00a9f0"/>
<rect x="74.62" y="353.34" width="21.48" height="7.67" fill="#04d1dc"/>
<rect x="74.62" y="360.56" width="21.48" height="7.67" fill="#39da51"/>
<rect x="74.62" y="367.78" width="21.48" height="7.67" fill="#39da51"/>
<rect x="74.62" y="375" width="21.48" height="7.67" fill="#a8ec00"/>
<rect x="74.62" y="382.22" width="21.48" height="7.67" fill="#00aeef"/>
<rect x="74.62" y="389.44" width="21.48" height="7.67" fill="#90baff"/>
<rect x="74.62" y="396.66" width="21.48" height="7.67" fill="#eef5ff"/>
<rect x="74.62" y="403.88" width="21.03" height="7.22" fill="#f4f8ff"/>
<rect x="95.65" y="331.68" width="21.48" height="7.67" fill="#c1d8ff"/>
<rect x="95.65" y="338.9" width="21.48" height="7.67" fill="#0066fe"/>
<rect x="95.65" y="346.12" width="21.48" height="7.67" fill="#09d2d1"/>
<rect x="95.65" y="353.34" width="21.48" height="7.67" fill="#b0ed00"/>
<rect x="95.65" y="360.56" width="21.48" height="7.67" fill="#58e000"/>
<rect x="95.65" y="367.78" width="21.48" height="7.67" fill="#54df0c"/>
<rect x="95.65" y="375" width="21.48" height="7.67" fill="#00aeef"/>
<rect x="95.65" y="382.22" width="21.48" height="7.67" fill="#1a70ff"/>
<rect x="95.65" y="389.44" width="21.48" height="7.67" fill="#99bfff"/>
<rect x="95.65" y="396.66" width="21.48" height="7.22" fill="#eef5ff"/>
<rect x="95.65" y="418.32" width="21.03" height="7.22" fill="#f5f9ff"/>
<rect x="116.68" y="331.68" width="21.48" height="7.67" fill="#e8f1ff"/>
<rect x="116.68" y="338.9" width="21.48" height="7.67" fill="#3984ff"/>
<rect x="116.68" y="346.12" width="21.48" height="7.67" fill="#00a9f0"/>
<rect x="116.68" y="353.34" width="21.48" height="7.67" fill="#68e200"/>
<rect x="116.68" y="360.56" width="21.48" height="7.67" fill="#d8f300"/>
<rect x="116.68" y="367.78" width="21.48" height="7.67" fill="#35da5d"/>
<rect x="116.68" y="375" width="21.48" height="7.67" fill="#1fd697"/>
<rect x="116.68" y="382.22" width="21.48" height="7.67" fill="#006bfd"/>
<rect x="116.68" y="389.44" width="21.48" height="7.67" fill="#79acff"/>
<rect x="116.68" y="396.66" width="21.48" height="7.67" fill="#e0ecff"/>
<rect x="116.68" y="403.88" width="21.03" height="7.22" fill="#f4f8ff"/>
<rect x="137.7" y="331.68" width="21.48" height="7.67" fill="#f0f5ff"/>
<rect x="137.7" y="338.9" width="21.48" height="7.67" fill="#66a0ff"/>
<rect x="137.7" y="346.12" width="21.48" height="7.67" fill="#0076fa"/>
<rect x="137.7" y="353.34" width="21.48" height="7.67" fill="#68e200"/>
<rect x="137.7" y="360.56" width="21.48" height="7.67" fill="#fcc800"/>
<rect x="137.7" y="367.78" width="21.48" height="7.67" fill="#a8ec00"/>
<rect x="137.7" y="375" width="21.48" height="7.67" fill="#09d2d1"/>
<rect x="137.7" y="382.22" width="21.48" height="7.67" fill="#3984ff"/>
<rect x="137.7" y="389.44" width="21.48" height="7.67" fill="#a8c9ff"/>
<rect x="137.7" y="396.66" width="21.48" height="7.22" fill="#f4f8ff"/>
<rect x="137.7" y="411.1" width="21.03" height="7.67" fill="#f5f9ff"/>
<rect x="137.7" y="418.32" width="21.03" height="7.22" fill="#f5f9ff"/>
<rect x="158.73" y="331.68" width="21.48" height="7.67" fill="#f0f5ff"/>
<rect x="158.73" y="338.9" width="21.48" height="7.67" fill="#3984ff"/>
<rect x="158.73" y="346.12" width="21.48" height="7.67" fill="#09d2d1"/>
<rect x="158.73" y="353.34" width="21.48" height="7.67" fill="#f8f800"/>
<rect x="158.73" y="360.56" width="21.48" height="7.67" fill="#fcc800"/>
<rect x="158.73" y="367.78" width="21.48" height="7.67" fill="#68e200"/>
<rect x="158.73" y="375" width="21.48" height="7.67" fill="#006bfd"/>
<rect x="158.73" y="382.22" width="21.48" height="7.67" fill="#99bfff"/>
<rect x="158.73" y="389.44" width="21.48" height="7.67" fill="#d0e2ff"/>
<rect x="158.73" y="396.66" width="21.48" height="7.22" fill="#f6f9ff"/>
<rect x="179.75" y="324.46" width="21.03" height="7.67" fill="#f0f5ff"/>
<rect x="179.75" y="331.68" width="21.48" height="7.67" fill="#d9e7ff"/>
<rect x="179.75" y="338.9" width="21.48" height="7.67" fill="#0664ff"/>
<rect x="179.75" y="346.12" width="21.48" height="7.67" fill="#28d780"/>
<rect x="179.75" y="353.34" width="21.48" height="7.67" fill="#f8f400"/>
<rect x="179.75" y="360.56" width="21.48" height="7.67" fill="#fcc800"/>
<rect x="179.75" y="367.78" width="21.48" height="7.67" fill="#0dd2c5"/>
<rect x="179.75" y="375" width="21.48" height="7.67" fill="#0066fe"/>
<rect x="179.75" y="382.22" width="21.48" height="7.67" fill="#c8ddff"/>
<rect x="179.75" y="389.44" width="21.48" height="7.67" fill="#eef5ff"/>
<rect x="179.75" y="396.66" width="21.03" height="7.22" fill="#f9fbff"/>
<rect x="179.75" y="411.1" width="21.48" height="7.22" fill="#f7faff"/>
<rect x="200.78" y="331.68" width="21.03" height="7.67" fill="#d0e2ff"/>
<rect x="200.78" y="338.9" width="21.48" height="7.67" fill="#468cff"/>
<rect x="200.78" y="346.12" width="21.48" height="7.67" fill="#00cae9"/>
<rect x="200.78" y="353.34" width="21.48" height="7.67" fill="#fae400"/>
<rect x="200.78" y="360.56" width="21.48" height="7.67" fill="#fcc800"/>
<rect x="200.78" y="367.78" width="21.48" height="7.67" fill="#30d968"/>
<rect x="200.78" y="375" width="21.48" height="7.67" fill="#0066fe"/>
<rect x="200.78" y="382.22" width="21.48" height="7.67" fill="#b0ceff"/>
<rect x="200.78" y="389.44" width="21.48" height="7.22" fill="#eef5ff"/>
<rect x="200.78" y="403.88" width="21.48" height="7.67" fill="#f5f9ff"/>
<rect x="200.78" y="411.1" width="21.03" height="7.22" fill="#f7faff"/>
<rect x="221.8" y="338.9" width="21.03" height="7.67" fill="#79acff"/>
<rect x="221.8" y="346.12" width="21.03" height="7.67" fill="#006bfd"/>
<rect x="221.8" y="353.34" width="21.03" height="7.67" fill="#fcd000"/>
<rect x="221.8" y="360.56" width="21.03" height="7.67" fill="#feb000"/>
<rect x="221.8" y="367.78" width="21.03" height="7.67" fill="#60e100"/>
<rect x="221.8" y="375" width="21.03" height="7.67" fill="#006bfd"/>
<rect x="221.8" y="382.22" width="21.03" height="7.67" fill="#99bfff"/>
<rect x="221.8" y="389.44" width="21.03" height="7.22" fill="#c8ddff"/>
<rect x="221.8" y="403.88" width="21.03" height="7.22" fill="#f5f9ff"/>
<rect x="263.85" y="310.02" width="21.03" height="7.22" fill="#f4f8ff"/>
<rect x="263.85" y="324.46" width="21.03" height="7.67" fill="#d9e7ff"/>
<rect x="263.85" y="331.68" width="21.03" height="7.67" fill="#d0e2ff"/>
<rect x="263.85" y="338.9" width="21.03" height="7.67" fill="#99bfff"/>
<rect x="263.85" y="346.12" width="21.03" height="7.67" fill="#006bfd"/>
<rect x="263.85" y="353.34" width="21.03" height="7.67" fill="#00bfeb"/>
<rect x="263.85" y="360.56" width="21.03" height="7.67" fill="#1ad5a2"/>
<rect x="263.85" y="367.78" width="21.03" height="7.67" fill="#80e600"/>
<rect x="263.85" y="375" width="21.03" height="7.67" fill="#80e600"/>
<rect x="263.85" y="382.22" width="21.03" height="7.67" fill="#30d968"/>
<rect x="263.85" y="389.44" width="21.03" height="7.67" fill="#5c99ff"/>
<rect x="263.85" y="396.66" width="21.03" height="7.67" fill="#eef5ff"/>
<rect x="263.85" y="403.88" width="21.03" height="7.67" fill="#f5f9ff"/>
<rect x="263.85" y="411.1" width="21.03" height="7.22" fill="#f7faff"/>
</g>
<rect x="242.83" y="302.8" width="21.03" height="216.6" fill="url(#hatch)"/>
<text transform="translate(257.04 411.1) rotate(-90)" text-anchor="middle" font-size="10.8" fill="#8a8a8a">no data</text>
<rect x="284.88" y="302.8" width="21.03" height="216.6" fill="url(#hatch)"/>
<text transform="translate(299.09 411.1) rotate(-90)" text-anchor="middle" font-size="10.8" fill="#8a8a8a">no data</text>
<path d="M64.11 360.3V386.3" stroke="#000" stroke-width="0.95" fill="none"/>
<path d="M61.71 360.3h4.8M61.71 386.3h4.8" stroke="#000" stroke-width="1.2" fill="none"/>
<circle cx="64.11" cy="373.3" r="1.85" fill="#000"/>
<path d="M85.14 354.2V382.5" stroke="#000" stroke-width="0.95" fill="none"/>
<path d="M82.74 354.2h4.8M82.74 382.5h4.8" stroke="#000" stroke-width="1.2" fill="none"/>
<circle cx="85.14" cy="368.6" r="1.85" fill="#000"/>
<path d="M106.16 349.3V376.2" stroke="#000" stroke-width="0.95" fill="none"/>
<path d="M103.76 349.3h4.8M103.76 376.2h4.8" stroke="#000" stroke-width="1.2" fill="none"/>
<circle cx="106.16" cy="363.1" r="1.85" fill="#000"/>
<path d="M127.19 351.7V378.4" stroke="#000" stroke-width="0.95" fill="none"/>
<path d="M124.79 351.7h4.8M124.79 378.4h4.8" stroke="#000" stroke-width="1.2" fill="none"/>
<circle cx="127.19" cy="365.1" r="1.85" fill="#000"/>
<path d="M148.21 353.2V377.2" stroke="#000" stroke-width="0.95" fill="none"/>
<path d="M145.81 353.2h4.8M145.81 377.2h4.8" stroke="#000" stroke-width="1.2" fill="none"/>
<circle cx="148.21" cy="365.5" r="1.85" fill="#000"/>
<path d="M169.24 350.9V373.5" stroke="#000" stroke-width="0.95" fill="none"/>
<path d="M166.84 350.9h4.8M166.84 373.5h4.8" stroke="#000" stroke-width="1.2" fill="none"/>
<circle cx="169.24" cy="362.4" r="1.85" fill="#000"/>
<path d="M190.26 349.4V371.5" stroke="#000" stroke-width="0.95" fill="none"/>
<path d="M187.86 349.4h4.8M187.86 371.5h4.8" stroke="#000" stroke-width="1.2" fill="none"/>
<circle cx="190.26" cy="360.5" r="1.85" fill="#000"/>
<path d="M211.29 350.7V372.1" stroke="#000" stroke-width="0.95" fill="none"/>
<path d="M208.89 350.7h4.8M208.89 372.1h4.8" stroke="#000" stroke-width="1.2" fill="none"/>
<circle cx="211.29" cy="361.6" r="1.85" fill="#000"/>
<path d="M232.31 352.9V372.8" stroke="#000" stroke-width="0.95" fill="none"/>
<path d="M229.91 352.9h4.8M229.91 372.8h4.8" stroke="#000" stroke-width="1.2" fill="none"/>
<circle cx="232.31" cy="363" r="1.85" fill="#000"/>
<path d="M274.36 356.7V386" stroke="#000" stroke-width="0.95" fill="none"/>
<path d="M271.96 356.7h4.8M271.96 386h4.8" stroke="#000" stroke-width="1.2" fill="none"/>
<circle cx="274.36" cy="371.5" r="1.85" fill="#000"/>
<rect x="53.6" y="302.8" width="252.3" height="216.6" fill="none" stroke="#1a1a1a" stroke-width="0.95"/>
<path d="M53.6 519.4h-4.2M53.6 506.36h-2.4M53.6 498.73h-2.4M53.6 493.32h-2.4M53.6 489.12h-2.4M53.6 485.69h-2.4M53.6 482.79h-2.4M53.6 480.28h-2.4M53.6 478.06h-2.4M53.6 476.08h-4.2M53.6 463.04h-2.4M53.6 455.41h-2.4M53.6 450h-2.4M53.6 445.8h-2.4M53.6 442.37h-2.4M53.6 439.47h-2.4M53.6 436.96h-2.4M53.6 434.74h-2.4M53.6 432.76h-4.2M53.6 419.72h-2.4M53.6 412.09h-2.4M53.6 406.68h-2.4M53.6 402.48h-2.4M53.6 399.05h-2.4M53.6 396.15h-2.4M53.6 393.64h-2.4M53.6 391.42h-2.4M53.6 389.44h-4.2M53.6 376.4h-2.4M53.6 368.77h-2.4M53.6 363.36h-2.4M53.6 359.16h-2.4M53.6 355.73h-2.4M53.6 352.83h-2.4M53.6 350.32h-2.4M53.6 348.1h-2.4M53.6 346.12h-4.2M53.6 333.08h-2.4M53.6 325.45h-2.4M53.6 320.04h-2.4M53.6 315.84h-2.4M53.6 312.41h-2.4M53.6 309.51h-2.4M53.6 307h-2.4M53.6 304.78h-2.4M53.6 302.8h-4.2M64.11 519.4v4.2M85.14 519.4v4.2M106.16 519.4v4.2M127.19 519.4v4.2M148.21 519.4v4.2M169.24 519.4v4.2M190.26 519.4v4.2M211.29 519.4v4.2M232.31 519.4v4.2M253.34 519.4v4.2M274.36 519.4v4.2M295.39 519.4v4.2" stroke="#1a1a1a" stroke-width="0.95" fill="none"/>
<text x="45.7" y="524.6" text-anchor="end" font-size="12.0">10<tspan font-size="8.4" dy="-4.8" dx="0.2">−3</tspan></text>
<text x="45.7" y="481.28" text-anchor="end" font-size="12.0">10<tspan font-size="8.4" dy="-4.8" dx="0.2">−2</tspan></text>
<text x="45.7" y="437.96" text-anchor="end" font-size="12.0">10<tspan font-size="8.4" dy="-4.8" dx="0.2">−1</tspan></text>
<text x="45.7" y="394.64" text-anchor="end" font-size="12.0">10<tspan font-size="8.4" dy="-4.8" dx="0.2">0</tspan></text>
<text x="45.7" y="351.32" text-anchor="end" font-size="12.0">10<tspan font-size="8.4" dy="-4.8" dx="0.2">1</tspan></text>
<text x="45.7" y="308" text-anchor="end" font-size="12.0">10<tspan font-size="8.4" dy="-4.8" dx="0.2">2</tspan></text>
<text transform="translate(62.05 548.74) rotate(-60)" font-size="12.0">Jan</text>
<text transform="translate(83.28 552.68) rotate(-60)" font-size="12.0">Feb</text>
<text transform="translate(103.96 553.89) rotate(-60)" font-size="12.0">Mar</text>
<text transform="translate(124.91 551.32) rotate(-60)" font-size="12.0">Apr</text>
<text transform="translate(145.47 555.76) rotate(-60)" font-size="12.0">May</text>
<text transform="translate(167.11 548.96) rotate(-60)" font-size="12.0">Jun</text>
<text transform="translate(189.2 545.26) rotate(-60)" font-size="12.0">Jul</text>
<text transform="translate(208.34 553.63) rotate(-60)" font-size="12.0">Aug</text>
<text transform="translate(229.92 553.53) rotate(-60)" font-size="12.0">Sep</text>
<text transform="translate(251.36 551.81) rotate(-60)" font-size="12.0">Oct</text>
<text transform="translate(271.96 554.56) rotate(-60)" font-size="12.0">Nov</text>
<text transform="translate(293.04 554.39) rotate(-60)" font-size="12.0">Dec</text>
<text x="46.8" y="291.8" font-size="12.6">c)</text>
<text transform="translate(9.5 411.1) rotate(-90)" text-anchor="middle" font-size="12.0"><tspan font-style="italic">P</tspan>(0)</text>
</g>
<g>
<g>
<rect x="366.1" y="411.1" width="21.01" height="7.22" fill="#f4f8ff"/>
<rect x="366.1" y="439.98" width="21.46" height="7.67" fill="#e8f1ff"/>
<rect x="366.1" y="447.2" width="21.46" height="7.67" fill="#b0ceff"/>
<rect x="366.1" y="454.42" width="21.46" height="7.67" fill="#0664ff"/>
<rect x="366.1" y="461.64" width="21.46" height="7.67" fill="#ffa800"/>
<rect x="366.1" y="468.86" width="21.46" height="7.67" fill="#a8ec00"/>
<rect x="366.1" y="476.08" width="21.46" height="7.67" fill="#54df0c"/>
<rect x="366.1" y="483.3" width="21.46" height="7.67" fill="#00a9f0"/>
<rect x="366.1" y="490.52" width="21.46" height="7.67" fill="#b8d2ff"/>
<rect x="366.1" y="497.74" width="21.46" height="7.67" fill="#c8ddff"/>
<rect x="366.1" y="504.96" width="21.46" height="7.67" fill="#eef5ff"/>
<rect x="366.1" y="512.18" width="21.46" height="7.22" fill="#f0f5ff"/>
<rect x="387.11" y="432.76" width="21.01" height="7.67" fill="#dbe9ff"/>
<rect x="387.11" y="439.98" width="21.46" height="7.67" fill="#e8f1ff"/>
<rect x="387.11" y="447.2" width="21.46" height="7.67" fill="#79acff"/>
<rect x="387.11" y="454.42" width="21.46" height="7.67" fill="#0664ff"/>
<rect x="387.11" y="461.64" width="21.46" height="7.67" fill="#f8f400"/>
<rect x="387.11" y="468.86" width="21.46" height="7.67" fill="#fae400"/>
<rect x="387.11" y="476.08" width="21.46" height="7.67" fill="#1ad5a2"/>
<rect x="387.11" y="483.3" width="21.46" height="7.67" fill="#0066fe"/>
<rect x="387.11" y="490.52" width="21.46" height="7.67" fill="#3984ff"/>
<rect x="387.11" y="497.74" width="21.46" height="7.67" fill="#99bfff"/>
<rect x="387.11" y="504.96" width="21.46" height="7.67" fill="#d0e2ff"/>
<rect x="387.11" y="512.18" width="21.46" height="7.22" fill="#e8f1ff"/>
<rect x="408.12" y="439.98" width="21.46" height="7.67" fill="#d0e2ff"/>
<rect x="408.12" y="447.2" width="21.46" height="7.67" fill="#3984ff"/>
<rect x="408.12" y="454.42" width="21.46" height="7.67" fill="#00a9f0"/>
<rect x="408.12" y="461.64" width="21.46" height="7.67" fill="#f8f400"/>
<rect x="408.12" y="468.86" width="21.46" height="7.67" fill="#f0f700"/>
<rect x="408.12" y="476.08" width="21.46" height="7.67" fill="#4bde23"/>
<rect x="408.12" y="483.3" width="21.46" height="7.67" fill="#006bfd"/>
<rect x="408.12" y="490.52" width="21.46" height="7.67" fill="#b8d2ff"/>
<rect x="408.12" y="497.74" width="21.46" height="7.67" fill="#d0e2ff"/>
<rect x="408.12" y="504.96" width="21.46" height="7.67" fill="#f0f5ff"/>
<rect x="408.12" y="512.18" width="21.01" height="7.22" fill="#f4f8ff"/>
<rect x="429.12" y="432.76" width="21.46" height="7.67" fill="#f4f8ff"/>
<rect x="429.12" y="439.98" width="21.46" height="7.67" fill="#b0ceff"/>
<rect x="429.12" y="447.2" width="21.46" height="7.67" fill="#0664ff"/>
<rect x="429.12" y="454.42" width="21.46" height="7.67" fill="#00cae9"/>
<rect x="429.12" y="461.64" width="21.46" height="7.67" fill="#e0f400"/>
<rect x="429.12" y="468.86" width="21.46" height="7.67" fill="#f0f700"/>
<rect x="429.12" y="476.08" width="21.46" height="7.67" fill="#4bde23"/>
<rect x="429.12" y="483.3" width="21.46" height="7.67" fill="#5092ff"/>
<rect x="429.12" y="490.52" width="21.46" height="7.67" fill="#b0ceff"/>
<rect x="429.12" y="497.74" width="21.46" height="7.67" fill="#dbe9ff"/>
<rect x="429.12" y="504.96" width="21.46" height="7.22" fill="#f0f5ff"/>
<rect x="450.13" y="432.76" width="21.46" height="7.67" fill="#f4f8ff"/>
<rect x="450.13" y="439.98" width="21.46" height="7.67" fill="#b8d2ff"/>
<rect x="450.13" y="447.2" width="21.46" height="7.67" fill="#0664ff"/>
<rect x="450.13" y="454.42" width="21.46" height="7.67" fill="#28d780"/>
<rect x="450.13" y="461.64" width="21.46" height="7.67" fill="#c0f000"/>
<rect x="450.13" y="468.86" width="21.46" height="7.67" fill="#d0f200"/>
<rect x="450.13" y="476.08" width="21.46" height="7.67" fill="#54df0c"/>
<rect x="450.13" y="483.3" width="21.46" height="7.67" fill="#5092ff"/>
<rect x="450.13" y="490.52" width="21.46" height="7.67" fill="#a8c9ff"/>
<rect x="450.13" y="497.74" width="21.46" height="7.67" fill="#dbe9ff"/>
<rect x="450.13" y="504.96" width="21.01" height="7.22" fill="#f4f8ff"/>
<rect x="471.14" y="432.76" width="21.46" height="7.67" fill="#f4f8ff"/>
<rect x="471.14" y="439.98" width="21.46" height="7.67" fill="#0060ff"/>
<rect x="471.14" y="447.2" width="21.46" height="7.67" fill="#54df0c"/>
<rect x="471.14" y="454.42" width="21.46" height="7.67" fill="#54df0c"/>
<rect x="471.14" y="461.64" width="21.46" height="7.67" fill="#46dd2e"/>
<rect x="471.14" y="468.86" width="21.46" height="7.67" fill="#35da5d"/>
<rect x="471.14" y="476.08" width="21.46" height="7.67" fill="#00b4ee"/>
<rect x="471.14" y="483.3" width="21.46" height="7.67" fill="#66a0ff"/>
<rect x="471.14" y="490.52" width="21.46" height="7.67" fill="#c1d8ff"/>
<rect x="471.14" y="497.74" width="21.46" height="7.22" fill="#e8f1ff"/>
<rect x="492.15" y="425.54" width="21.01" height="7.67" fill="#f4f8ff"/>
<rect x="492.15" y="432.76" width="21.01" height="7.67" fill="#e0ecff"/>
<rect x="492.15" y="439.98" width="21.46" height="7.67" fill="#3984ff"/>
<rect x="492.15" y="447.2" width="21.46" height="7.67" fill="#16d4ae"/>
<rect x="492.15" y="454.42" width="21.46" height="7.67" fill="#35da5d"/>
<rect x="492.15" y="461.64" width="21.46" height="7.67" fill="#68e200"/>
<rect x="492.15" y="468.86" width="21.46" height="7.67" fill="#68e200"/>
<rect x="492.15" y="476.08" width="21.46" height="7.67" fill="#00cae9"/>
<rect x="492.15" y="483.3" width="21.46" height="7.67" fill="#79acff"/>
<rect x="492.15" y="490.52" width="21.46" height="7.67" fill="#a8c9ff"/>
<rect x="492.15" y="497.74" width="21.46" height="7.67" fill="#d9e7ff"/>
<rect x="492.15" y="504.96" width="21.46" height="7.22" fill="#f0f5ff"/>
<rect x="513.16" y="439.98" width="21.46" height="7.67" fill="#79acff"/>
<rect x="513.16" y="447.2" width="21.46" height="7.67" fill="#0066fe"/>
<rect x="513.16" y="454.42" width="21.46" height="7.67" fill="#00cae9"/>
<rect x="513.16" y="461.64" width="21.46" height="7.67" fill="#f0f700"/>
<rect x="513.16" y="468.86" width="21.46" height="7.67" fill="#e0f400"/>
<rect x="513.16" y="476.08" width="21.46" height="7.67" fill="#2cd874"/>
<rect x="513.16" y="483.3" width="21.46" height="7.67" fill="#0066fe"/>
<rect x="513.16" y="490.52" width="21.46" height="7.67" fill="#c1d8ff"/>
<rect x="513.16" y="497.74" width="21.01" height="7.67" fill="#e0ecff"/>
<rect x="513.16" y="504.96" width="21.01" height="7.22" fill="#f0f5ff"/>
<rect x="534.17" y="432.76" width="21.01" height="7.67" fill="#e0ecff"/>
<rect x="534.17" y="439.98" width="21.01" height="7.67" fill="#a8c9ff"/>
<rect x="534.17" y="447.2" width="21.01" height="7.67" fill="#0066fe"/>
<rect x="534.17" y="454.42" width="21.01" height="7.67" fill="#30d968"/>
<rect x="534.17" y="461.64" width="21.01" height="7.67" fill="#f0f700"/>
<rect x="534.17" y="468.86" width="21.01" height="7.67" fill="#f9ec00"/>
<rect x="534.17" y="476.08" width="21.01" height="7.67" fill="#28d780"/>
<rect x="534.17" y="483.3" width="21.01" height="7.67" fill="#79acff"/>
<rect x="534.17" y="490.52" width="21.01" height="7.22" fill="#d0e2ff"/>
<rect x="576.18" y="432.76" width="21.01" height="7.67" fill="#f4f8ff"/>
<rect x="576.18" y="439.98" width="21.01" height="7.67" fill="#c1d8ff"/>
<rect x="576.18" y="447.2" width="21.01" height="7.67" fill="#0066fe"/>
<rect x="576.18" y="454.42" width="21.01" height="7.67" fill="#00a9f0"/>
<rect x="576.18" y="461.64" width="21.01" height="7.67" fill="#ffa800"/>
<rect x="576.18" y="468.86" width="21.01" height="7.67" fill="#ffa800"/>
<rect x="576.18" y="476.08" width="21.01" height="7.67" fill="#009ef2"/>
<rect x="576.18" y="483.3" width="21.01" height="7.67" fill="#99bfff"/>
<rect x="576.18" y="490.52" width="21.01" height="7.67" fill="#eef5ff"/>
<rect x="576.18" y="497.74" width="21.01" height="7.22" fill="#f0f5ff"/>
</g>
<rect x="555.17" y="302.8" width="21.01" height="216.6" fill="url(#hatch)"/>
<text transform="translate(569.38 411.1) rotate(-90)" text-anchor="middle" font-size="10.8" fill="#8a8a8a">no data</text>
<rect x="597.19" y="302.8" width="21.01" height="216.6" fill="url(#hatch)"/>
<text transform="translate(611.4 411.1) rotate(-90)" text-anchor="middle" font-size="10.8" fill="#8a8a8a">no data</text>
<path d="M376.6 459.4V483" stroke="#000" stroke-width="0.95" fill="none"/>
<path d="M374.2 459.4h4.8M374.2 483h4.8" stroke="#000" stroke-width="1.2" fill="none"/>
<circle cx="376.6" cy="471.2" r="1.85" fill="#000"/>
<path d="M397.61 458.8V484.5" stroke="#000" stroke-width="0.95" fill="none"/>
<path d="M395.21 458.8h4.8M395.21 484.5h4.8" stroke="#000" stroke-width="1.2" fill="none"/>
<circle cx="397.61" cy="471.6" r="1.85" fill="#000"/>
<path d="M418.62 459V482.6" stroke="#000" stroke-width="0.95" fill="none"/>
<path d="M416.22 459h4.8M416.22 482.6h4.8" stroke="#000" stroke-width="1.2" fill="none"/>
<circle cx="418.62" cy="470.8" r="1.85" fill="#000"/>
<path d="M439.63 457.9V481.8" stroke="#000" stroke-width="0.95" fill="none"/>
<path d="M437.23 457.9h4.8M437.23 481.8h4.8" stroke="#000" stroke-width="1.2" fill="none"/>
<circle cx="439.63" cy="470.4" r="1.85" fill="#000"/>
<path d="M460.64 456.5V481.3" stroke="#000" stroke-width="0.95" fill="none"/>
<path d="M458.24 456.5h4.8M458.24 481.3h4.8" stroke="#000" stroke-width="1.2" fill="none"/>
<circle cx="460.64" cy="469.3" r="1.85" fill="#000"/>
<path d="M481.65 450.1V476.5" stroke="#000" stroke-width="0.95" fill="none"/>
<path d="M479.25 450.1h4.8M479.25 476.5h4.8" stroke="#000" stroke-width="1.2" fill="none"/>
<circle cx="481.65" cy="463.4" r="1.85" fill="#000"/>
<path d="M502.65 453.1V479.4" stroke="#000" stroke-width="0.95" fill="none"/>
<path d="M500.25 453.1h4.8M500.25 479.4h4.8" stroke="#000" stroke-width="1.2" fill="none"/>
<circle cx="502.65" cy="466.4" r="1.85" fill="#000"/>
<path d="M523.66 456.9V480.9" stroke="#000" stroke-width="0.95" fill="none"/>
<path d="M521.26 456.9h4.8M521.26 480.9h4.8" stroke="#000" stroke-width="1.2" fill="none"/>
<circle cx="523.66" cy="469.1" r="1.85" fill="#000"/>
<path d="M544.67 457.3V479.2" stroke="#000" stroke-width="0.95" fill="none"/>
<path d="M542.27 457.3h4.8M542.27 479.2h4.8" stroke="#000" stroke-width="1.2" fill="none"/>
<circle cx="544.67" cy="468.5" r="1.85" fill="#000"/>
<path d="M586.69 459.2V478.2" stroke="#000" stroke-width="0.95" fill="none"/>
<path d="M584.29 459.2h4.8M584.29 478.2h4.8" stroke="#000" stroke-width="1.2" fill="none"/>
<circle cx="586.69" cy="468.7" r="1.85" fill="#000"/>
<rect x="366.1" y="302.8" width="252.1" height="216.6" fill="none" stroke="#1a1a1a" stroke-width="0.95"/>
<path d="M366.1 519.4h-4.2M366.1 506.36h-2.4M366.1 498.73h-2.4M366.1 493.32h-2.4M366.1 489.12h-2.4M366.1 485.69h-2.4M366.1 482.79h-2.4M366.1 480.28h-2.4M366.1 478.06h-2.4M366.1 476.08h-4.2M366.1 463.04h-2.4M366.1 455.41h-2.4M366.1 450h-2.4M366.1 445.8h-2.4M366.1 442.37h-2.4M366.1 439.47h-2.4M366.1 436.96h-2.4M366.1 434.74h-2.4M366.1 432.76h-4.2M366.1 419.72h-2.4M366.1 412.09h-2.4M366.1 406.68h-2.4M366.1 402.48h-2.4M366.1 399.05h-2.4M366.1 396.15h-2.4M366.1 393.64h-2.4M366.1 391.42h-2.4M366.1 389.44h-4.2M366.1 376.4h-2.4M366.1 368.77h-2.4M366.1 363.36h-2.4M366.1 359.16h-2.4M366.1 355.73h-2.4M366.1 352.83h-2.4M366.1 350.32h-2.4M366.1 348.1h-2.4M366.1 346.12h-4.2M366.1 333.08h-2.4M366.1 325.45h-2.4M366.1 320.04h-2.4M366.1 315.84h-2.4M366.1 312.41h-2.4M366.1 309.51h-2.4M366.1 307h-2.4M366.1 304.78h-2.4M366.1 302.8h-4.2M376.6 519.4v4.2M397.61 519.4v4.2M418.62 519.4v4.2M439.63 519.4v4.2M460.64 519.4v4.2M481.65 519.4v4.2M502.65 519.4v4.2M523.66 519.4v4.2M544.67 519.4v4.2M565.68 519.4v4.2M586.69 519.4v4.2M607.7 519.4v4.2" stroke="#1a1a1a" stroke-width="0.95" fill="none"/>
<text x="357.7" y="524.6" text-anchor="end" font-size="12.0">10<tspan font-size="8.4" dy="-4.8" dx="0.2">−3</tspan></text>
<text x="357.7" y="481.28" text-anchor="end" font-size="12.0">10<tspan font-size="8.4" dy="-4.8" dx="0.2">−2</tspan></text>
<text x="357.7" y="437.96" text-anchor="end" font-size="12.0">10<tspan font-size="8.4" dy="-4.8" dx="0.2">−1</tspan></text>
<text x="357.7" y="394.64" text-anchor="end" font-size="12.0">10<tspan font-size="8.4" dy="-4.8" dx="0.2">0</tspan></text>
<text x="357.7" y="351.32" text-anchor="end" font-size="12.0">10<tspan font-size="8.4" dy="-4.8" dx="0.2">1</tspan></text>
<text x="357.7" y="308" text-anchor="end" font-size="12.0">10<tspan font-size="8.4" dy="-4.8" dx="0.2">2</tspan></text>
<text transform="translate(374.54 548.74) rotate(-60)" font-size="12.0">Jan</text>
<text transform="translate(395.76 552.68) rotate(-60)" font-size="12.0">Feb</text>
<text transform="translate(416.42 553.89) rotate(-60)" font-size="12.0">Mar</text>
<text transform="translate(437.35 551.32) rotate(-60)" font-size="12.0">Apr</text>
<text transform="translate(457.89 555.76) rotate(-60)" font-size="12.0">May</text>
<text transform="translate(479.52 548.96) rotate(-60)" font-size="12.0">Jun</text>
<text transform="translate(501.59 545.26) rotate(-60)" font-size="12.0">Jul</text>
<text transform="translate(520.72 553.63) rotate(-60)" font-size="12.0">Aug</text>
<text transform="translate(542.28 553.53) rotate(-60)" font-size="12.0">Sep</text>
<text transform="translate(563.7 551.81) rotate(-60)" font-size="12.0">Oct</text>
<text transform="translate(584.29 554.56) rotate(-60)" font-size="12.0">Nov</text>
<text transform="translate(605.35 554.39) rotate(-60)" font-size="12.0">Dec</text>
<text x="359.3" y="291.8" font-size="12.6">d)</text>
<text transform="translate(321.5 411.1) rotate(-90)" text-anchor="middle" font-size="12.0"><tspan font-style="italic">P</tspan>(90)</text>
</g>
<rect x="623.5" y="21.6" width="10.9" height="216.8" fill="url(#cb)"/>
<rect x="623.5" y="21.6" width="10.9" height="216.8" fill="none" stroke="#1a1a1a" stroke-width="0.95"/>
<text x="643" y="243" font-size="12.0">0.00</text>
<text x="643" y="199.64" font-size="12.0">0.20</text>
<text x="643" y="156.28" font-size="12.0">0.40</text>
<text x="643" y="112.92" font-size="12.0">0.60</text>
<text x="643" y="69.56" font-size="12.0">0.80</text>
<text x="643" y="26.2" font-size="12.0">1.00</text>
<path d="M634.4 238.4h4.2M634.4 195.04h4.2M634.4 151.68h4.2M634.4 108.32h4.2M634.4 64.96h4.2M634.4 21.6h4.2" stroke="#1a1a1a" stroke-width="0.95" fill="none"/>
<text transform="translate(683.2 130) rotate(-90)" text-anchor="middle" font-size="12.0">counts [Arb.U.]</text>
<rect x="623.5" y="302.8" width="10.9" height="216.6" fill="url(#cb)"/>
<rect x="623.5" y="302.8" width="10.9" height="216.6" fill="none" stroke="#1a1a1a" stroke-width="0.95"/>
<text x="643" y="524" font-size="12.0">0.00</text>
<text x="643" y="480.68" font-size="12.0">0.20</text>
<text x="643" y="437.36" font-size="12.0">0.40</text>
<text x="643" y="394.04" font-size="12.0">0.60</text>
<text x="643" y="350.72" font-size="12.0">0.80</text>
<text x="643" y="307.4" font-size="12.0">1.00</text>
<path d="M634.4 519.4h4.2M634.4 476.08h4.2M634.4 432.76h4.2M634.4 389.44h4.2M634.4 346.12h4.2M634.4 302.8h4.2" stroke="#1a1a1a" stroke-width="0.95" fill="none"/>
<text transform="translate(683.2 411.1) rotate(-90)" text-anchor="middle" font-size="12.0">counts [Arb.U.]</text>
</g>
</svg>
</body></html>
